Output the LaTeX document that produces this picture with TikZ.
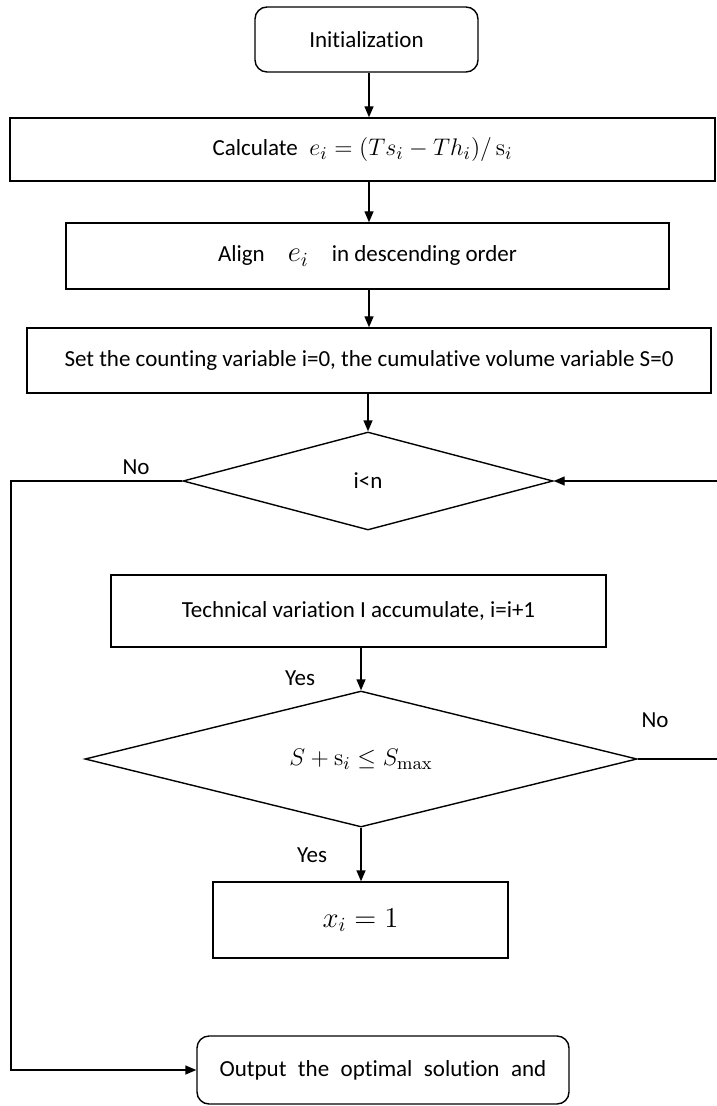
\documentclass[tikz,border=0pt]{standalone}
\usepackage[no-math]{fontspec}
\setmainfont{Carlito}[RawFeature=-liga]
\usetikzlibrary{shapes.geometric,arrows.meta}

\begin{document}
\begin{tikzpicture}[x=0.5pt,y=-0.5pt,line width=0.7pt,
    font=\fontsize{11.5}{13}\selectfont,
    arrow/.style={-{Triangle[length=5.5pt,width=4.5pt]}},
    box/.style={draw,inner sep=0pt},
    roundbox/.style={draw,rounded corners=6pt,inner sep=0pt},
    decision/.style={draw,diamond,aspect=4,inner sep=0pt}]
  \useasboundingbox (0,0) rectangle (716,1106);
  {
    \node (init)   at (366.5,39.5) [roundbox,minimum width=111.5pt,minimum height=32.5pt] {Initialization};
    \node (calc)   at (362.5,149.5) [box,minimum width=352.5pt,minimum height=31.5pt]
      {Calculate\enspace{\fontsize{13}{15}\selectfont$e_i=(Ts_i-Th_i)/\,\mathrm{s}_i$}};
    \node (align)  at (367.5,256) [box,minimum width=301.5pt,minimum height=33pt]
      {Align\quad{\fontsize{14}{16}\selectfont$e_i$}\quad in descending order};
    \node (set)    at (369,360.5) [box,minimum width=342pt,minimum height=32.5pt]
      {Set the counting variable i=0, the cumulative volume variable S=0};
    \node (loop)   at (368,481) [decision,minimum width=185pt,minimum height=49pt] {i<n};
    \node (tech)   at (358.5,611) [box,minimum width=247.5pt,minimum height=36pt]
      {Technical variation I accumulate, i=i+1};
    \node (fits)   at (361,759) [decision,minimum width=276pt,minimum height=68pt]
      {\fontsize{13}{15}\selectfont$S+\mathrm{s}_i\le S_{\max}$};
    \node (take)   at (360.5,920) [box,minimum width=147.5pt,minimum height=38pt]
      {\fontsize{14}{16}\selectfont$x_i=1$};
    \node (output) at (383,1070) [roundbox,minimum width=186pt,minimum height=34pt]
      {\spaceskip=0.5em Output the optimal solution and};

    \node (loopno)  at (136,467) {No};
    \node (techyes) at (300,678) {Yes};
    \node (fitsno)  at (655,720) {No};
    \node (fitsyes) at (312,855) {Yes};

    \coordinate (leftrail)  at (11,481);
    \coordinate (rightlow)  at (724,759);
    \coordinate (righthigh) at (724,481);

    \draw[arrow] (init.south -| 369,0) -- (calc.north -| 369,0);
    \draw[arrow] (calc.south -| 369,0) -- (align.north -| 369,0);
    \draw[arrow] (align.south -| 369,0) -- (set.north -| 369,0);
    \draw[arrow] (set.south -| loop.north) -- (loop.north);
    \draw[arrow] (tech.south -| fits.north) -- (fits.north);
    \draw[arrow] (fits.south) -- (take.north -| fits.south);
    \draw[arrow] (loop.west) -- (leftrail) |- (output.west);
    \draw[arrow] (fits.east) -- (rightlow) -- (righthigh) -- (loop.east);
  }
\end{tikzpicture}
\end{document}
